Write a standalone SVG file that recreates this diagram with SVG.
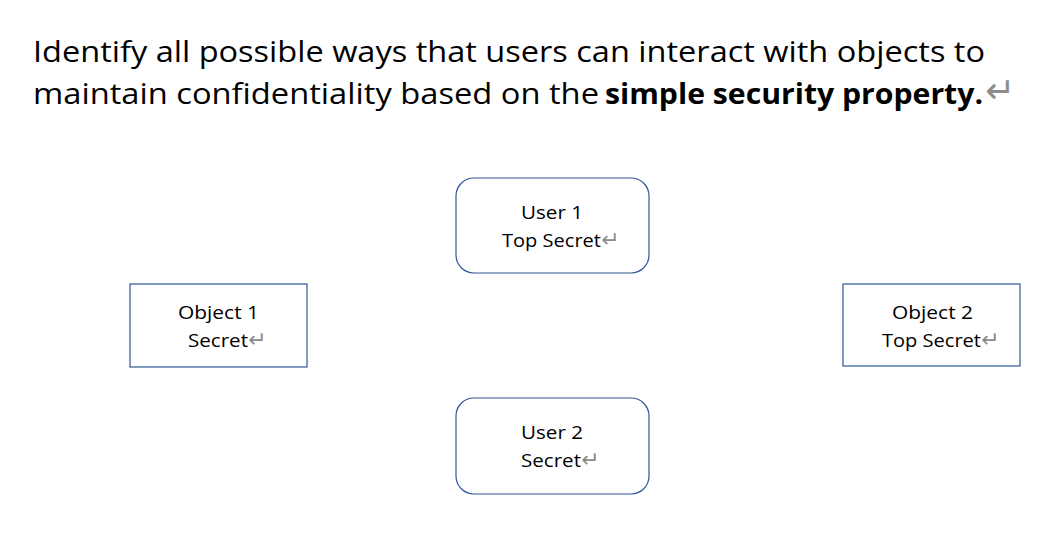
<svg xmlns="http://www.w3.org/2000/svg" width="1047" height="545" viewBox="0 0 1047 545">
<style>
.t{font-family:"Open Sans","Liberation Sans",sans-serif;fill:#000}
.h{font-size:29px}
.n{font-size:19px}
.m{fill:#8c8c8c;font-family:"DejaVu Sans",sans-serif}
.mh{font-size:36px}
.mn{font-size:22px}
.box{fill:#fff;stroke:#2F5597;stroke-width:1.2}
</style>
<rect width="1047" height="545" fill="#fff"/>
<g id="title">
<text class="t h" x="33" y="62" textLength="952" lengthAdjust="spacingAndGlyphs">Identify all possible ways that users can interact with objects to</text>
<text class="t h" x="33" y="104" textLength="566" lengthAdjust="spacingAndGlyphs">maintain confidentiality based on the</text>
<text class="t h" x="605" y="104" font-weight="bold" textLength="378" lengthAdjust="spacingAndGlyphs">simple security property.</text>
<text class="m mh" x="985" y="103">↵</text>
</g>
<g id="connectors"></g>
<g id="user1">
<rect class="box" x="456" y="178" width="193" height="95" rx="18"/>
<text class="t n" x="521" y="219" textLength="62" lengthAdjust="spacingAndGlyphs">User 1</text>
<text class="t n" x="502" y="247" textLength="99" lengthAdjust="spacingAndGlyphs">Top Secret</text>
<text class="m mn" x="601" y="247">↵</text>
</g>
<g id="object1">
<rect class="box" x="130" y="284" width="177" height="83"/>
<text class="t n" x="178" y="319" textLength="81" lengthAdjust="spacingAndGlyphs">Object 1</text>
<text class="t n" x="188" y="347" textLength="60" lengthAdjust="spacingAndGlyphs">Secret</text>
<text class="m mn" x="248" y="347">↵</text>
</g>
<g id="object2">
<rect class="box" x="843" y="284" width="177" height="82"/>
<text class="t n" x="892" y="319" textLength="81" lengthAdjust="spacingAndGlyphs">Object 2</text>
<text class="t n" x="882" y="347" textLength="99" lengthAdjust="spacingAndGlyphs">Top Secret</text>
<text class="m mn" x="981" y="347">↵</text>
</g>
<g id="user2">
<rect class="box" x="456" y="398" width="193" height="96" rx="18"/>
<text class="t n" x="521" y="439" textLength="62" lengthAdjust="spacingAndGlyphs">User 2</text>
<text class="t n" x="521" y="467" textLength="60" lengthAdjust="spacingAndGlyphs">Secret</text>
<text class="m mn" x="581" y="467">↵</text>
</g>
</svg>
